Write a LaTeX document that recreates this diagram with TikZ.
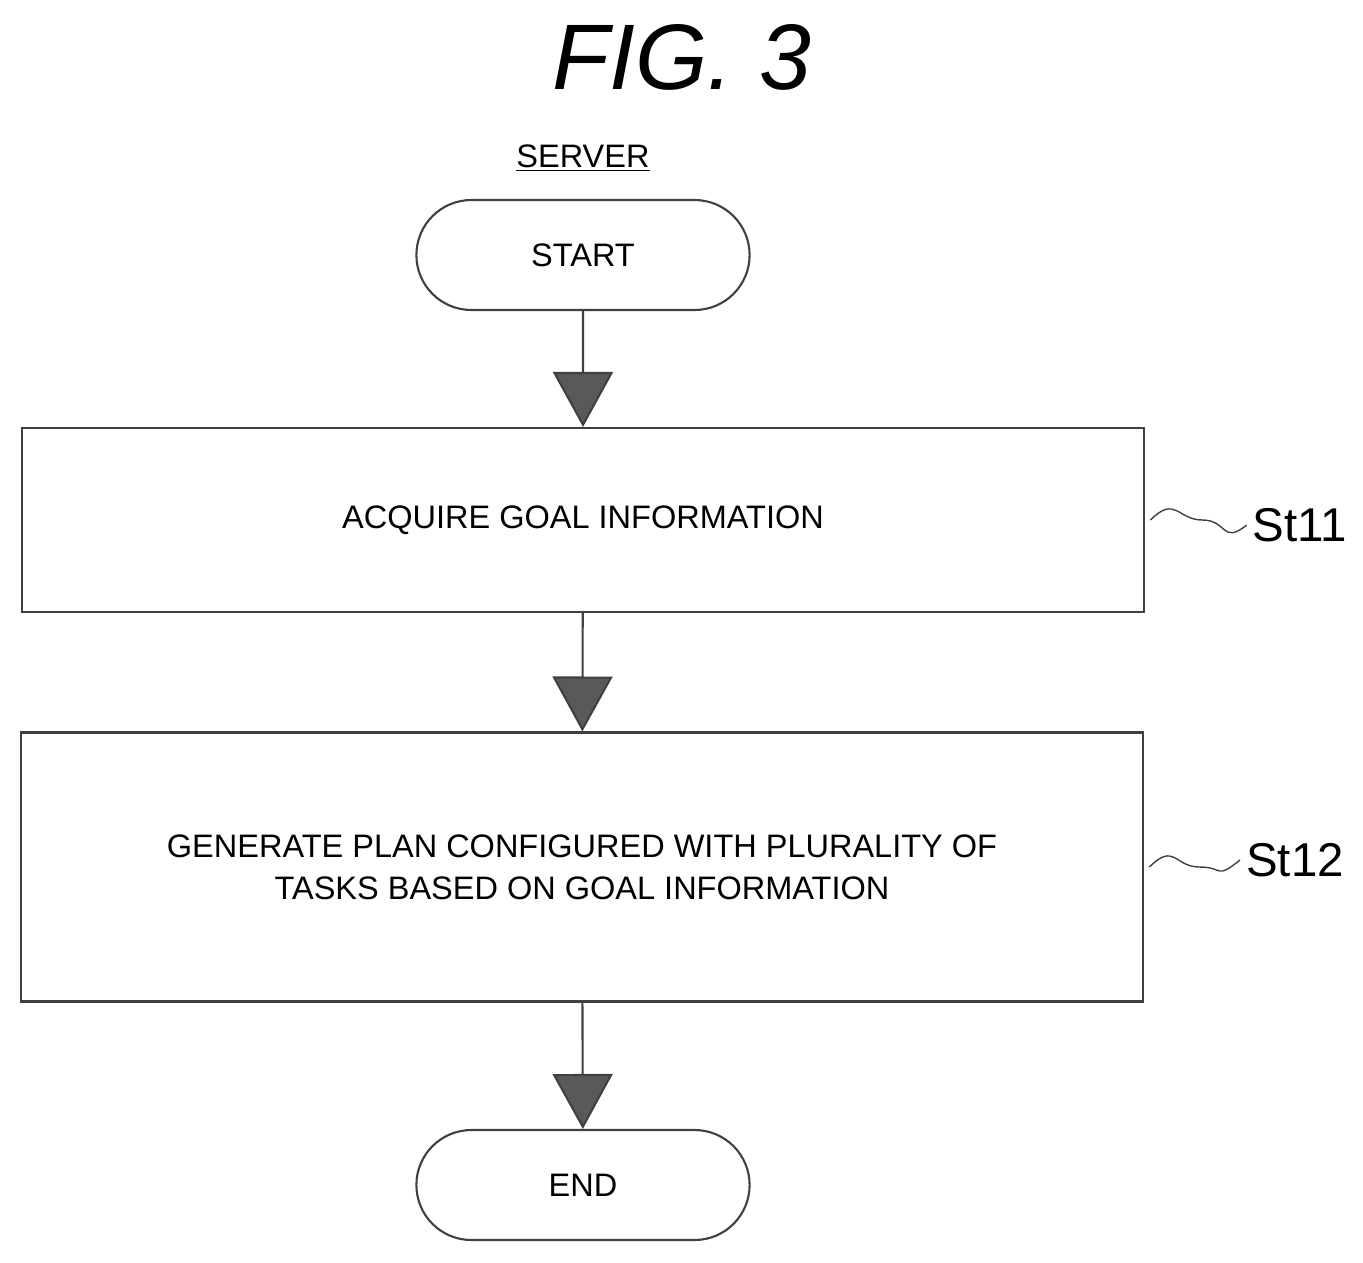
\documentclass[tikz,border=0pt]{standalone}
\usepackage{fontspec}
\setmainfont{Liberation Sans}
\usetikzlibrary{arrows.meta,shapes.misc}
\tikzset{
  flowline/.style={draw=black!75, line width=1.2pt},
  bigtip/.style={-{Triangle[width=1.2cm,length=1.1cm,fill=black!65]}},
  stadium/.style={draw, rounded rectangle, minimum width=6.9cm, minimum height=2.2cm, flowline, font=\fontsize{18.5}{22}\selectfont},
  stepbox/.style={draw, rectangle, minimum width=22.46cm, flowline, align=center, font=\fontsize{18.5}{24}\selectfont},
}
\begin{document}
\begin{tikzpicture}[x=0.02cm,y=-0.02cm]
    \useasboundingbox (0,0) rectangle (1363,1262);

    % Title
    \node (title) at (682,57) {\fontsize{53}{60}\selectfont\itshape FIG. 3};
    \node (server) at (583,158) {\fontsize{18.5}{22}\selectfont\underline{SERVER}};

    % Steps
    \node[stadium] (start) at (583,255) {START};
    \node[stepbox, minimum height=3.68cm] (acquire) at (583,520) {ACQUIRE GOAL INFORMATION};
    \node[stepbox, minimum height=5.38cm] (generate) at (582,867)
      {GENERATE PLAN CONFIGURED WITH PLURALITY OF\\TASKS BASED ON GOAL INFORMATION};
    \node[stadium] (finish) at (583,1185) {END};

    % Arrows
    \draw[flowline, bigtip] (start) -- (acquire);
    \draw[flowline, bigtip] (acquire) -- (generate);
    \draw[flowline, bigtip] (generate) -- (finish);

    % Step labels
    \node (st11) at (1300,525) {\fontsize{27}{32}\selectfont St11};
    \node (st12) at (1295,860) {\fontsize{27}{32}\selectfont St12};
    \draw[flowline, line width=0.8pt] (acquire.east) ++(5,0)
      .. controls +(25,-25) and +(-25,0) .. +(52,0)
      .. controls +(25,0) and +(-25,20) .. (st11.west);
    \draw[flowline, line width=0.8pt] (generate.east) ++(5,0)
      .. controls +(25,-25) and +(-25,0) .. +(50,0)
      .. controls +(25,0) and +(-25,20) .. (st12.west);
\end{tikzpicture}
\end{document}
